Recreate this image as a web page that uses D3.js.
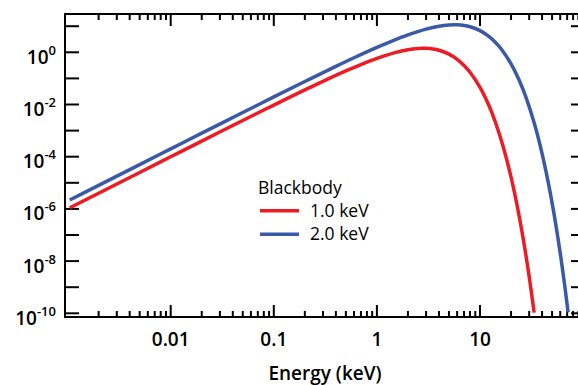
<!DOCTYPE html>
<html>
<head>
<meta charset="utf-8">
<script src="https://cdn.jsdelivr.net/npm/d3@7"></script>
<style>
    body { margin: 0; background: #fff; }
    svg { display: block; font-family: "Open Sans", "Liberation Sans", sans-serif; }
</style>
</head>
<body>
<div id="chart"></div>
<script>
// energies (keV) and spectra
var redEnergy = [0.00105, 0.002, 0.005, 0.01, 0.02, 0.05, 0.1, 0.2, 0.3, 0.5, 0.7, 1, 1.5, 2, 2.5, 2.82, 3, 3.5, 4, 5, 6, 7, 8, 10, 12, 14, 17, 20, 23, 26, 30, 33.5];
var redFlux = [1.102e-6, 3.996e-6, 2.494e-5, 9.95e-5, 3.96e-4, 2.438e-3, 9.508e-3, 3.613e-2, 7.717e-2, 0.1927, 0.3384, 0.582, 0.9694, 1.252, 1.397, 1.421, 1.415, 1.335, 1.194, 0.848, 0.5367, 0.3131, 0.1718, 0.0454, 0.01062, 2.282e-3, 2.034e-4, 1.649e-5, 1.249e-6, 8.98e-8, 2.527e-9, 1.062e-10];

var blueEnergy = [0.00105, 0.002, 0.005, 0.01, 0.02, 0.05, 0.1, 0.2, 0.4, 0.6, 1, 1.4, 2, 3, 4, 5, 5.64, 6, 7, 8, 10, 12, 14, 16, 20, 24, 28, 34, 40, 46, 52, 60, 66, 71.5];
var blueFlux = [2.2045e-6, 7.996e-6, 4.994e-5, 1.995e-4, 7.96e-4, 4.938e-3, 1.9504e-2, 7.606e-2, 0.289, 0.6174, 1.5415, 2.707, 4.656, 7.755, 10.017, 11.178, 11.371, 11.318, 10.68, 9.553, 6.784, 4.294, 2.5045, 1.3745, 0.3632, 0.08494, 0.01825, 1.627e-3, 1.319e-4, 9.989e-6, 7.184e-7, 2.021e-8, 1.339e-9, 1.089e-10];

var seriesNames = ["1.0 keV", "2.0 keV"];
var seriesColors = ["#ec1c24", "#3a5aa8"];
var xTickLabels = ["0.01", "0.1", "1", "10"];
var yLabelExponents = ["0", "-2", "-4", "-6", "-8", "-10"];

// note: "top" clashes with window.top, so the frame edges get their own names
var width = 578, height = 385,
    frameLeft = 65, frameRight = 585, frameTop = 14, frameBottom = 317;

var svg = d3.select("#chart").append("svg")
    .attr("width", width)
    .attr("height", height);

var x = d3.scaleLog().domain([1e-3, 1e2]).range([67.6, 583.1]);
var y = d3.scaleLog().domain([1e-10, 1e1]).range([313.3, 26.2]);

// ticks at every decade on y, labels every second one
var yDecades = d3.range(-10, 2).map(function (p) { return Math.pow(10, p); });
var xMajor = [0.01, 0.1, 1, 10];
var xMinor = [];
[0.001, 0.01, 0.1, 1, 10].forEach(function (d) {
    for (var k = 2; k <= 9; k++) { xMinor.push(d * k); }
});

var axes = svg.append("g").attr("stroke", "#000").attr("stroke-width", 2);

// frame
axes.append("path")
    .attr("fill", "none")
    .attr("d", "M" + frameRight + "," + frameTop + "H" + frameLeft + "V" + frameBottom + "H" + frameRight);

yDecades.forEach(function (v) {
    axes.append("line").attr("x1", frameLeft).attr("x2", frameLeft + 14).attr("y1", y(v)).attr("y2", y(v));
    axes.append("line").attr("x1", frameRight).attr("x2", frameRight - 14).attr("y1", y(v)).attr("y2", y(v));
});

xMajor.forEach(function (v) {
    axes.append("line").attr("x1", x(v)).attr("x2", x(v)).attr("y1", frameBottom).attr("y2", frameBottom - 12);
    axes.append("line").attr("x1", x(v)).attr("x2", x(v)).attr("y1", frameTop).attr("y2", frameTop + 12);
});
xMinor.forEach(function (v) {
    if (x(v) <= frameLeft + 1 || x(v) >= frameRight) { return; }
    axes.append("line").attr("x1", x(v)).attr("x2", x(v)).attr("y1", frameBottom).attr("y2", frameBottom - 6);
    axes.append("line").attr("x1", x(v)).attr("x2", x(v)).attr("y1", frameTop).attr("y2", frameTop + 6);
});

// x tick labels
svg.append("g").selectAll("text")
    .data(xMajor)
    .enter().append("text")
    .attr("x", function (d) { return x(d); })
    .attr("y", 345.5)
    .attr("text-anchor", "middle")
    .attr("font-size", 19)
    .attr("font-weight", 600)
    .text(function (d, i) { return xTickLabels[i]; });

// y tick labels: 10^n
var yl = svg.append("g").selectAll("text")
    .data(yLabelExponents)
    .enter().append("text")
    .attr("x", 56)
    .attr("y", function (d) { return y(Math.pow(10, +d)) + 11.5; })
    .attr("text-anchor", "end")
    .attr("font-size", 19)
    .attr("font-weight", 600);
yl.append("tspan").text("10");
yl.append("tspan")
    .attr("font-size", 13)
    .attr("dy", -9)
    .text(function (d) { return d; });

svg.append("text")
    .attr("x", (frameLeft + frameRight) / 2)
    .attr("y", 380)
    .attr("text-anchor", "middle")
    .attr("font-size", 19)
    .attr("font-weight", 600)
    .text("Energy (keV)");

// spectra
var line = d3.line()
    .x(function (d) { return x(d[0]); })
    .y(function (d) { return y(d[1]); })
    .curve(d3.curveCatmullRom);

var series = [d3.zip(redEnergy, redFlux), d3.zip(blueEnergy, blueFlux)];

svg.append("g").selectAll("path")
    .data(series)
    .enter().append("path")
    .attr("fill", "none")
    .attr("stroke", function (d, i) { return seriesColors[i]; })
    .attr("stroke-width", 3.5)
    .attr("d", line);

// legend
var legend = svg.append("g");
legend.append("text")
    .attr("x", 258)
    .attr("y", 194)
    .attr("font-size", 17.5)
    .text("Blackbody");
seriesNames.forEach(function (name, i) {
    var ly = 210.7 + i * 23.6;
    legend.append("line")
        .attr("x1", 260).attr("x2", 299)
        .attr("y1", ly).attr("y2", ly)
        .attr("stroke", seriesColors[i])
        .attr("stroke-width", 3.5);
    legend.append("text")
        .attr("x", 310)
        .attr("y", ly + 6)
        .attr("font-size", 17.5)
        .text(name);
});
</script>
</body>
</html>
